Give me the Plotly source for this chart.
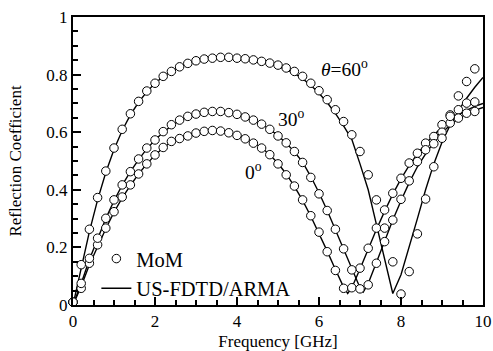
import plotly.graph_objects as go

# ---------------- data ----------------
freq_mom = [0.0, 0.2, 0.4, 0.6, 0.8, 1.0, 1.2, 1.4, 1.6, 1.8,
            2.0, 2.2, 2.4, 2.6, 2.8, 3.0, 3.2, 3.4, 3.6, 3.8,
            4.0, 4.2, 4.4, 4.6, 4.8, 5.0, 5.2, 5.4, 5.6, 5.8,
            6.0, 6.2, 6.4, 6.6, 6.8, 7.0, 7.2, 7.4, 7.6, 7.8,
            8.0, 8.2, 8.4, 8.6, 8.8, 9.0, 9.2, 9.4, 9.6, 9.8]

mom_0 = [0.01, 0.058, 0.145, 0.209, 0.267, 0.324, 0.375, 0.417, 0.455, 0.49,
         0.521, 0.547, 0.568, 0.578, 0.587, 0.597, 0.603, 0.606, 0.604, 0.598,
         0.589, 0.577, 0.562, 0.545, 0.522, 0.49, 0.452, 0.413, 0.365, 0.31,
         0.253, 0.185, 0.12, 0.058, 0.06, 0.128, 0.197, 0.267, 0.33, 0.388,
         0.44, 0.493, 0.527, 0.562, 0.585, 0.626, 0.66, 0.678, 0.701, 0.705]

mom_30 = [0.01, 0.075, 0.162, 0.232, 0.301, 0.365, 0.417, 0.463, 0.507, 0.545,
          0.573, 0.602, 0.626, 0.642, 0.655, 0.663, 0.669, 0.672, 0.672, 0.668,
          0.662, 0.653, 0.642, 0.628, 0.61, 0.587, 0.563, 0.533, 0.495, 0.443,
          0.386, 0.328, 0.263, 0.195, 0.122, 0.056, 0.07, 0.145, 0.22, 0.295,
          0.367, 0.431, 0.498, 0.539, 0.56, 0.60, 0.632, 0.649, 0.666, 0.672]

mom_60 = [0.01, 0.14, 0.263, 0.373, 0.465, 0.545, 0.61, 0.664, 0.707, 0.743,
          0.77, 0.794, 0.811, 0.827, 0.839, 0.848, 0.854, 0.857, 0.86, 0.86,
          0.857, 0.855, 0.851, 0.846, 0.84, 0.833, 0.823, 0.811, 0.794, 0.77,
          0.744, 0.713, 0.678, 0.637, 0.591, 0.533, 0.452, 0.365, 0.267, 0.15,
          0.038, 0.116, 0.247, 0.368, 0.48, 0.579, 0.655, 0.726, 0.776, 0.82]

freq_line_0 = [0.0, 0.2, 0.4, 0.6, 0.8, 1.0, 1.2, 1.4, 1.6, 1.8,
               2.0, 2.2, 2.4, 2.6, 2.8, 3.0, 3.2, 3.4, 3.6, 3.8,
               4.0, 4.2, 4.4, 4.6, 4.8, 5.0, 5.2, 5.4, 5.6, 5.8,
               6.0, 6.2, 6.4, 6.6, 6.7, 6.8, 7.0, 7.2, 7.4, 7.6, 7.8,
               8.0, 8.2, 8.4, 8.6, 8.8, 9.0, 9.2, 9.4, 9.6, 9.8, 10.0]
line_0 = [0.0, 0.065, 0.14, 0.205, 0.265, 0.322, 0.372, 0.415, 0.455, 0.49,
          0.52, 0.546, 0.566, 0.58, 0.591, 0.599, 0.604, 0.606, 0.605, 0.6,
          0.592, 0.58, 0.565, 0.546, 0.522, 0.492, 0.455, 0.412, 0.363, 0.308,
          0.25, 0.187, 0.123, 0.062, 0.04, 0.06, 0.125, 0.195, 0.262, 0.325, 0.385,
          0.438, 0.485, 0.525, 0.56, 0.59, 0.617, 0.64, 0.66, 0.676, 0.69, 0.70]

freq_line_30 = [0.0, 0.2, 0.4, 0.6, 0.8, 1.0, 1.2, 1.4, 1.6, 1.8,
                2.0, 2.2, 2.4, 2.6, 2.8, 3.0, 3.2, 3.4, 3.6, 3.8,
                4.0, 4.2, 4.4, 4.6, 4.8, 5.0, 5.2, 5.4, 5.6, 5.8,
                6.0, 6.2, 6.4, 6.6, 6.8, 7.0, 7.08, 7.2, 7.4, 7.6, 7.8,
                8.0, 8.2, 8.4, 8.6, 8.8, 9.0, 9.2, 9.4, 9.6, 9.8, 10.0]
line_30 = [0.0, 0.075, 0.158, 0.232, 0.3, 0.362, 0.416, 0.463, 0.505, 0.542,
           0.573, 0.6, 0.622, 0.64, 0.653, 0.663, 0.669, 0.672, 0.672, 0.669,
           0.663, 0.654, 0.643, 0.628, 0.61, 0.588, 0.562, 0.532, 0.496, 0.446,
           0.39, 0.328, 0.262, 0.193, 0.124, 0.06, 0.045, 0.075, 0.148, 0.222, 0.295,
           0.362, 0.425, 0.48, 0.525, 0.565, 0.598, 0.625, 0.647, 0.663, 0.676, 0.686]

freq_line_60 = [0.0, 0.2, 0.4, 0.6, 0.8, 1.0, 1.2, 1.4, 1.6, 1.8,
                2.0, 2.2, 2.4, 2.6, 2.8, 3.0, 3.2, 3.4, 3.6, 3.8,
                4.0, 4.2, 4.4, 4.6, 4.8, 5.0, 5.2, 5.4, 5.6, 5.8,
                6.0, 6.2, 6.4, 6.6, 6.8, 7.0, 7.2, 7.4, 7.6, 7.8,
                8.0, 8.2, 8.4, 8.6, 8.8, 9.0, 9.2, 9.4, 9.6, 9.8, 10.0]
line_60 = [0.0, 0.13, 0.255, 0.365, 0.46, 0.54, 0.606, 0.66, 0.704, 0.74,
           0.77, 0.793, 0.812, 0.827, 0.839, 0.848, 0.854, 0.858, 0.86, 0.86,
           0.858, 0.855, 0.851, 0.845, 0.838, 0.829, 0.818, 0.804, 0.786, 0.763,
           0.735, 0.703, 0.665, 0.622, 0.575, 0.49, 0.4, 0.28, 0.16, 0.04,
           0.105, 0.2, 0.3, 0.4, 0.49, 0.565, 0.625, 0.675, 0.718, 0.756, 0.79]

x_ticks = [0, 2, 4, 6, 8, 10]
y_ticks = [0, 0.2, 0.4, 0.6, 0.8, 1]

labels = ["<i>θ</i>=60<sup>o</sup>", "30<sup>o</sup>", "0<sup>o</sup>"]
label_x = [6.63, 5.32, 4.41]
label_y = [0.824, 0.65, 0.466]

# ---------------- figure ----------------
FONT = "Liberation Serif"
fig = go.Figure()

for i, (fx, fy) in enumerate([(freq_line_0, line_0), (freq_line_30, line_30), (freq_line_60, line_60)]):
    fig.add_trace(go.Scatter(
        x=fx, y=fy, mode="lines", line=dict(color="black", width=1.4),
        name="US-FDTD/ARMA", showlegend=(i == 0), legendrank=2, cliponaxis=False))

for i, my in enumerate([mom_0, mom_30, mom_60]):
    fig.add_trace(go.Scatter(
        x=freq_mom, y=my, mode="markers",
        marker=dict(symbol="circle", size=8.5, color="white",
                    line=dict(color="black", width=1)),
        name="MoM", showlegend=(i == 0), legendrank=1, cliponaxis=False))

for t, x, y in zip(labels, label_x, label_y):
    fig.add_annotation(x=x, y=y, xref="x", yref="y", text=t, showarrow=False,
                       font=dict(family=FONT, size=19.5, color="black"))

axis_common = dict(showline=True, linecolor="black", linewidth=2, mirror=True,
                   ticks="inside", ticklen=8, tickwidth=1.5, tickcolor="black",
                   showgrid=False, zeroline=False, automargin=False,
                   tickfont=dict(family=FONT, size=17, color="black"))

fig.update_xaxes(range=[0, 10], tickvals=x_ticks, ticktext=[str(v) for v in x_ticks],
                 minor=dict(dtick=0.5, ticks="inside", ticklen=5, tickwidth=1.5, tickcolor="black"),
                 title=dict(text="Frequency [GHz]", font=dict(family=FONT, size=17, color="black"), standoff=6),
                 **axis_common)
fig.update_yaxes(range=[0, 1], tickvals=y_ticks, ticktext=["0", "0.2", "0.4", "0.6", "0.8", "1"],
                 minor=dict(dtick=0.05, ticks="inside", ticklen=5, tickwidth=1.5, tickcolor="black"),
                 title=dict(text="Reflection Coefficient", font=dict(family=FONT, size=17, color="black"), standoff=20),
                 **axis_common)

fig.update_layout(
    width=493, height=351,
    margin=dict(l=73, r=10, t=17, b=46, autoexpand=False),
    paper_bgcolor="white", plot_bgcolor="white",
    font=dict(family=FONT, color="black"),
    legend=dict(x=0.057, y=0.23, xanchor="left", yanchor="top",
                bgcolor="rgba(0,0,0,0)", font=dict(family=FONT, size=20.5, color="black"),
                tracegroupgap=0, itemwidth=30),
)

fig.write_html("out.html")
